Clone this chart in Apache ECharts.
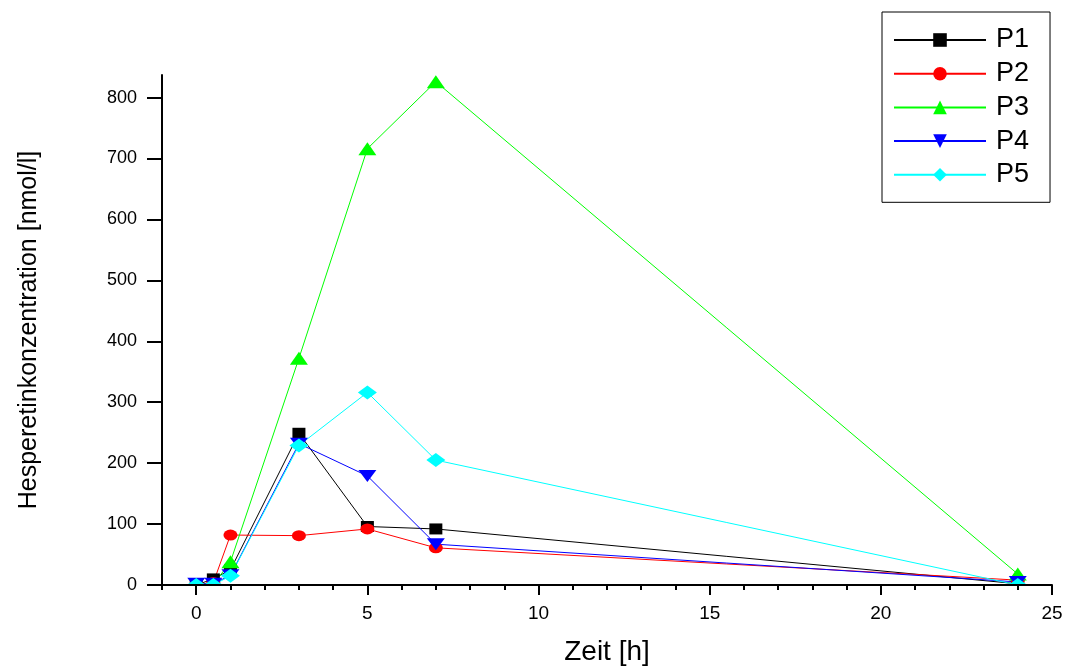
<!DOCTYPE html>
<html>
<head>
<meta charset="utf-8">
<script src="https://cdn.jsdelivr.net/npm/echarts@6/dist/echarts.min.js"></script>
<style>
  html, body { margin: 0; padding: 0; background: #fff; }
  #chart { width: 1073px; height: 671px; }
</style>
</head>
<body>
<div id="chart"></div>
<script>
// Sampling times (h) and hesperetin plasma concentrations (nmol/l) per subject
const times = [0, 0.5, 1, 3, 5, 7, 24];
const p1 = [0, 10, 25, 249, 96, 92, 2];
const p2 = [0, 4, 82, 81, 92, 61, 8];
const p3 = [0, 1, 38, 372, 716, 826, 18];
const p4 = [2, 2, 16, 232, 179, 67, 5];
const p5 = [0, 0, 15, 229, 316, 205, 0];

const seriesNames = ['P1', 'P2', 'P3', 'P4', 'P5'];
const xTickLabels = [0, 5, 10, 15, 20, 25];
const yTickLabels = [0, 100, 200, 300, 400, 500, 600, 700, 800];

const FONT = "'Liberation Sans', Arial, sans-serif";
const X_MIN = -1, X_MAX = 25, Y_MIN = 0, Y_MAX = 837;

const pairs = vals => times.map((t, i) => [t, vals[i]]);

function makeSeries(name, vals, color, symbol, size, rotate) {
  return {
    name: name,
    type: 'line',
    data: pairs(vals),
    xAxisIndex: 0,
    yAxisIndex: 0,
    z: 2,
    symbol: symbol,
    symbolSize: size,
    symbolRotate: rotate || 0,
    showAllSymbol: true,
    animation: false,
    lineStyle: { color: color, width: 1 },
    itemStyle: { color: color, borderWidth: 0 }
  };
}

const chart = echarts.init(document.getElementById('chart'), null, { renderer: 'canvas' });

chart.setOption({
  backgroundColor: '#ffffff',
  animation: false,
  grid: { left: 162, right: 21, top: 75, bottom: 84, containLabel: false },
  legend: {
    orient: 'vertical',
    left: 882,
    top: 12,
    z: 5,
    itemWidth: 92,
    itemHeight: 17,
    itemGap: 6.7,
    padding: [14.5, 21, 14, 11],
    borderColor: '#000',
    borderWidth: 1,
    textStyle: { fontFamily: FONT, fontSize: 27, color: '#000', padding: [0, 0, 0, 5] },
    data: seriesNames
  },
  xAxis: [
    {
      type: 'value',
      min: X_MIN,
      max: X_MAX,
      interval: 1,
      position: 'bottom',
      z: 4,
      name: 'Zeit [h]',
      nameLocation: 'middle',
      nameGap: 53,
      nameTextStyle: { fontFamily: FONT, fontSize: 28, color: '#000' },
      axisLine: { show: true, onZero: false, lineStyle: { color: '#000', width: 2 } },
      axisTick: { show: true, inside: false, length: 5, lineStyle: { color: '#000', width: 2 } },
      axisLabel: {
        customValues: xTickLabels,
        margin: 19,
        fontFamily: FONT,
        fontSize: 19,
        color: '#000'
      },
      splitLine: { show: false }
    },
    {
      // longer major ticks every 5 h
      type: 'value',
      min: X_MIN,
      max: X_MAX,
      position: 'bottom',
      z: 4,
      axisLine: { show: false, onZero: false },
      axisTick: { show: true, inside: false, length: 10, customValues: xTickLabels, lineStyle: { color: '#000', width: 2 } },
      axisLabel: { show: false },
      splitLine: { show: false }
    }
  ],
  yAxis: {
    type: 'value',
    min: Y_MIN,
    max: Y_MAX,
    z: 4,
    name: 'Hesperetinkonzentration [nmol/l]',
    nameLocation: 'middle',
    nameRotate: 90,
    nameGap: 120,
    nameTextStyle: { fontFamily: FONT, fontSize: 25, color: '#000' },
    axisLine: { show: true, onZero: false, lineStyle: { color: '#000', width: 2 } },
    axisTick: { show: true, inside: false, length: 15, customValues: yTickLabels, lineStyle: { color: '#000', width: 2 } },
    axisLabel: {
      customValues: yTickLabels,
      margin: 25,
      fontFamily: FONT,
      fontSize: 18,
      color: '#000'
    },
    splitLine: { show: false }
  },
  series: [
    makeSeries(seriesNames[0], p1, '#000000', 'rect', [13, 11]),
    makeSeries(seriesNames[1], p2, '#ff0000', 'circle', [14, 11]),
    makeSeries(seriesNames[2], p3, '#00ff00', 'triangle', [18, 13]),
    makeSeries(seriesNames[3], p4, '#0000ff', 'triangle', [18, 12], 180),
    makeSeries(seriesNames[4], p5, '#00ffff', 'diamond', [19, 14])
  ]
});

// Markers are cut off at the x axis: a white strip just below the plot area
// hides the parts of the symbols that spill past the axis line.
const bottomLeft = chart.convertToPixel({ gridIndex: 0 }, [X_MIN, Y_MIN]);
const bottomRight = chart.convertToPixel({ gridIndex: 0 }, [X_MAX, Y_MIN]);
chart.setOption({
  graphic: [{
    type: 'rect',
    z: 3,
    silent: true,
    shape: {
      x: bottomLeft[0] + 1,
      y: bottomLeft[1] + 1,
      width: bottomRight[0] - bottomLeft[0] + 12,
      height: 12
    },
    style: { fill: '#ffffff' }
  }]
});
</script>
</body>
</html>
